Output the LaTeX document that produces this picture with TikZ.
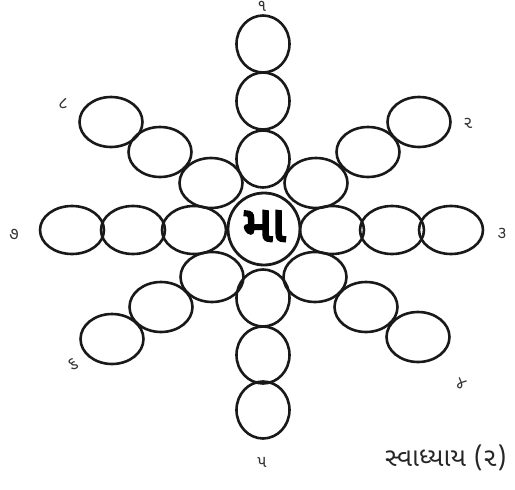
\documentclass[tikz,border=0pt]{standalone}
\usepackage{fontspec}
\usetikzlibrary{shapes.geometric}
\newfontfamily\guj[Script=Gujarati]{Noto Sans Gujarati UI}
\newfontfamily\gujb[Script=Gujarati,FakeBold=5]{Noto Sans Gujarati UI}
\tikzset{
  cell/.style={ellipse,draw=black!90,line width=2.6pt,inner sep=0pt},
  vcell/.style={cell,minimum width=53pt,minimum height=57pt},
  hcell/.style={cell,minimum width=64pt,minimum height=48pt},
  dcell/.style={cell,minimum width=63pt,minimum height=50pt},
  hub/.style={circle,draw=black!90,line width=2.8pt,minimum size=72pt,inner sep=0pt,font=\gujb\fontsize{50}{50}\selectfont},
  num/.style={font=\guj\fontsize{17}{17}\selectfont,text=black!80,inner sep=0pt}
}
\begin{document}
\begin{tikzpicture}[x=1pt,y=-1pt]
\useasboundingbox (0,0) rectangle (515,490);
% hub
\node[hub] (c) at (264,229) {};
\node[font=\gujb\fontsize{50}{50}\selectfont,inner sep=0pt] (ct) at (264,226) {મા};
% arm 1 (up)
\node[vcell] (a1) at (263,159) {};
\node[vcell] (a2) at (263,101) {};
\node[vcell] (a3) at (263,44) {};
% arm 5 (down)
\node[vcell] (e1) at (263,298) {};
\node[vcell] (e2) at (263,355) {};
\node[vcell] (e3) at (263,410) {};
% arm 7 (left)
\node[hcell] (g1) at (194,230) {};
\node[hcell] (g2) at (133,230) {};
\node[hcell] (g3) at (72,230) {};
% arm 3 (right)
\node[hcell] (c1) at (332,230) {};
\node[hcell] (c2) at (392,230) {};
\node[hcell] (c3) at (451,230) {};
% arm 2 (up-right)
\node[dcell] (b1) at (316,183) {};
\node[dcell] (b2) at (368,152) {};
\node[dcell] (b3) at (419,122) {};
% arm 4 (down-right)
\node[dcell] (d1) at (315,277) {};
\node[dcell] (d2) at (366,307) {};
\node[dcell] (d3) at (418,337) {};
% arm 8 (up-left)
\node[dcell] (h1) at (211,183) {};
\node[dcell] (h2) at (160,152) {};
\node[dcell] (h3) at (111,122) {};
% arm 6 (down-left)
\node[dcell] (f1) at (212,277) {};
\node[dcell] (f2) at (161,307) {};
\node[dcell] (f3) at (112,339) {};
% labels
\node[num] (l1) at (262,6) {૧};
\node[num] (l2) at (468,123) {૨};
\node[num] (l3) at (502,233) {૩};
\node[num,rotate=-25] (l4) at (461,384) {૪};
\node[num] (l5) at (262,462) {૫};
\node[num,rotate=25] (l6) at (73,364) {૬};
\node[num] (l7) at (14,234) {૭};
\node[num] (l8) at (63,103) {૮};
\node[anchor=west,inner sep=0pt,font=\guj\fontsize{26}{26}\selectfont,text=black!85] (t) at (385,458) {સ્વાધ્યાય (૨)};
\end{tikzpicture}
\end{document}
